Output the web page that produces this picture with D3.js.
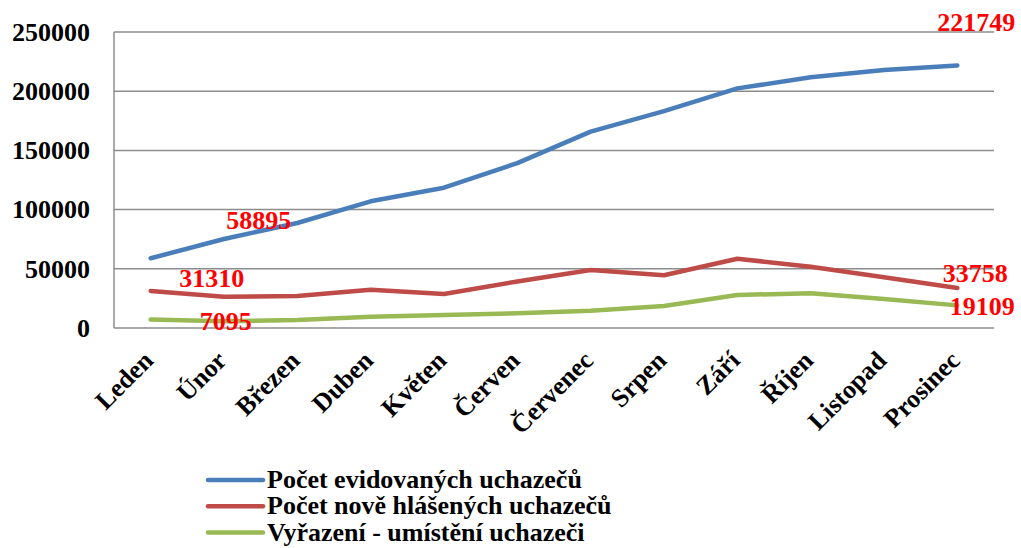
<!DOCTYPE html>
<html><head><meta charset="utf-8">
<script src="https://cdn.jsdelivr.net/npm/d3@7"></script>
<style>body{margin:0;background:#fff}svg{display:block}</style>
</head><body>
<svg id="c" width="1021" height="548"></svg>
<script>
const months = ["Leden","Únor","Březen","Duben","Květen","Červen","Červenec","Srpen","Září","Říjen","Listopad","Prosinec"];
const evidovani = [58895,75200,88700,107000,118500,139300,165800,183200,202400,211700,217900,221749];
const noveHlaseni = [31310,26400,27000,32300,28700,39300,49000,44500,58500,51800,42800,33758];
const vyrazeni = [7095,5600,6750,9500,11000,12400,14600,18600,27900,29300,24500,19109];
const yTicks = [0,50000,100000,150000,200000,250000];
const seriesNames = ["Počet evidovaných uchazečů","Počet nově hlášených uchazečů","Vyřazení - umístění uchazeči"];
const seriesColors = ["#4A7EBB","#BE4B48","#98B954"];
// labelled points: [series index, month index, dx, dy]
const dataLabels = [[0,0,108,-29],[1,0,61,-4],[2,0,75,10],[0,11,19,-34],[1,11,18,-6],[2,11,25,10]];

const series = [evidovani, noveHlaseni, vyrazeni];
const svg = d3.select("#c");
const L = 114, R = 994, T = 32, B = 328;
const x = d3.scaleBand().domain(months).range([L, R]);
const cx = m => x(m) + x.bandwidth()/2;
const y = d3.scaleLinear().domain([0,250000]).range([B, T]);
const FF = '"Liberation Serif"';

// gridlines
svg.append("g").selectAll("line").data(yTicks).join("line")
  .attr("x1", L).attr("x2", R).attr("y1", d=>y(d)).attr("y2", d=>y(d))
  .attr("stroke", "#8c8c8c").attr("stroke-width", 1.5);
svg.append("line").attr("x1", L).attr("x2", L).attr("y1", T).attr("y2", B)
  .attr("stroke", "#8c8c8c").attr("stroke-width", 1.5);

// y axis labels
const ya = svg.append("g").attr("transform", `translate(${L},0)`)
  .call(d3.axisLeft(y).tickValues(yTicks).tickSize(0).tickPadding(24).tickFormat(d3.format("d")));
ya.select(".domain").remove();
ya.selectAll("text").style("font-family", FF).style("font-weight","bold").style("font-size","26px").attr("fill", "#000");

// x axis labels
svg.append("g").selectAll("text").data(months).join("text")
  .attr("transform", d => `translate(${cx(d)+4},${B+34}) rotate(-45)`)
  .attr("text-anchor", "end")
  .style("font-family", FF).style("font-weight","bold").style("font-size","26px")
  .text(d => d);

// lines
const line = d3.line().x((d,i)=>cx(months[i])).y(d=>y(d));
series.forEach((s, k) => {
  svg.append("path").datum(s).attr("d", line).attr("fill","none")
    .attr("stroke", seriesColors[k]).attr("stroke-width", 4.5)
    .attr("stroke-linecap","round").attr("stroke-linejoin","round");
});

// data labels
svg.append("g").selectAll("text").data(dataLabels).join("text")
  .attr("x", d => cx(months[d[1]]) + d[2])
  .attr("y", d => y(series[d[0]][d[1]]) + d[3])
  .attr("text-anchor","middle")
  .style("font-family", FF).style("font-weight","bold").style("font-size","26px").attr("fill", "#FF0000")
  .text(d => series[d[0]][d[1]]);

// legend
const lg = svg.append("g");
seriesNames.forEach((n, k) => {
  const ly = 480 + k*26.3;
  lg.append("line").attr("x1", 208).attr("x2", 263).attr("y1", ly).attr("y2", ly)
    .attr("stroke", seriesColors[k]).attr("stroke-width", 4.5).attr("stroke-linecap","round");
  lg.append("text").attr("x", 267).attr("y", ly + 8)
    .style("font-family", FF).style("font-weight","bold").style("font-size","26px").text(n);
});
</script>
</body></html>
